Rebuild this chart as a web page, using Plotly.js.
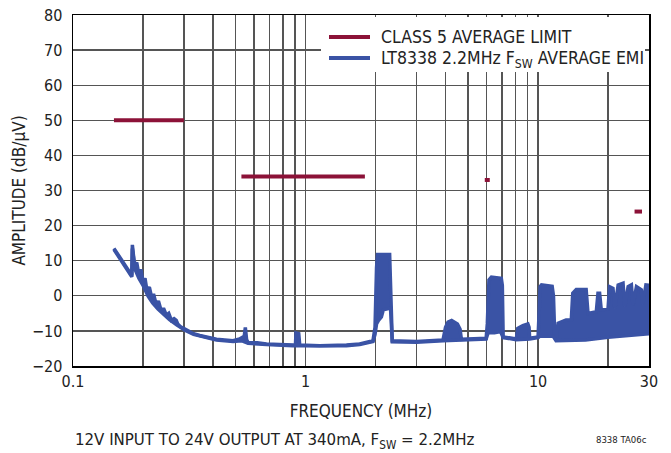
<!DOCTYPE html>
<html>
<head>
<meta charset="utf-8">
<script src="https://cdn.plot.ly/plotly-3.0.1.min.js"></script>
<style>html,body{margin:0;padding:0;background:#fff;}#chart{width:671px;height:453px;}</style>
</head>
<body>
<div id="chart"></div>
<script>
// CISPR 25 Class 5 average limit segments (MHz, dBµV)
const limitFreq = [0.15, 0.3, null, 0.53, 1.8, null, 5.9, 6.2, null, 26, 28];
const limitDb   = [50, 50, null, 34, 34, null, 33, 33, null, 24, 24];

// LT8338 average EMI – upper envelope
const emiHighFreq = [0.150,0.179,0.180,0.184,0.188,0.192,0.196,0.200,0.204,0.208,0.213,0.218,0.222,0.228,0.233,0.240,0.245,0.252,0.258,0.265,0.272,0.278,0.282,0.290,0.303,0.330,0.351,0.414,0.488,0.520,0.545,0.551,0.558,0.566,0.620,0.679,0.884,0.905,0.910,0.935,0.944,1.15,1.50,1.71,1.95,1.99,2.02,2.04,2.30,2.33,2.36,3.0,3.9,4.0,4.1,4.25,4.5,4.62,4.68,5.98,6.05,6.15,6.3,6.95,7.02,7.08,8.06,8.18,8.6,9.04,9.15,9.2,10.0,10.1,10.2,10.35,11.5,11.65,11.8,11.95,12.2,13.2,13.9,14.1,14.6,16.1,16.4,17.8,18.1,18.4,18.7,20.0,20.3,21.0,21.4,22.1,23.2,23.6,24.4,25.2,25.6,26.5,27.8,28.2,29.1,30];
const emiHighDb   = [13.5,5.8,14.5,8.5,9.5,6.0,7.5,4.0,5.0,1.5,2.5,-0.5,0.5,-2.5,-1.5,-4.5,-3.5,-5.5,-5.0,-7.0,-6.5,-7.0,-8.0,-8.8,-9.5,-10.8,-11.3,-12.4,-12.8,-12.3,-11.5,-9.0,-12.5,-13.3,-13.4,-13.7,-14.0,-13.9,-10.6,-10.8,-14.0,-14.2,-14.0,-13.7,-12.8,-9.0,8.0,11.8,11.8,-3.0,-12.8,-13.0,-12.6,-9.0,-7.5,-7.0,-8.0,-9.5,-12.4,-12.1,-8.0,4.5,5.3,5.0,3.0,-11.7,-12.3,-9.3,-8.5,-8.0,-9.0,-12.1,-11.7,-5.0,2.6,3.1,2.7,0.0,-11.7,-12.6,-7.8,-6.9,-6.8,0.7,1.8,1.8,-5.0,-4.5,0.7,0.7,-4.0,-3.6,2.6,2.1,-3.6,3.1,3.6,-3.1,2.6,3.1,-2.6,2.6,1.7,-2.5,3.1,3.0];

// LT8338 average EMI – lower envelope
const emiLowFreq = [0.150,0.179,0.180,0.185,0.192,0.200,0.210,0.220,0.232,0.245,0.260,0.280,0.303,0.330,0.351,0.414,0.488,0.530,0.566,0.679,0.884,0.944,1.15,1.50,1.71,1.95,1.99,2.02,2.06,2.12,2.16,2.32,2.36,3.0,3.9,4.68,5.98,6.1,6.5,6.9,7.08,8.06,9.2,10.0,10.2,11.6,11.95,16.0,20.0,30];
const emiLowDb   = [13.2,5.4,13.5,7.5,5.0,3.0,0.0,-2.0,-3.8,-5.2,-6.8,-8.3,-9.8,-11.0,-11.5,-12.6,-13.0,-12.8,-13.5,-13.9,-14.2,-14.2,-14.4,-14.2,-13.9,-13.0,-11.0,-8.0,-7.0,-6.0,-4.0,-3.5,-13.1,-13.2,-12.8,-12.6,-12.3,-10.5,-10.5,-10.2,-11.9,-12.5,-12.3,-11.9,-11.5,-11.5,-12.8,-12.6,-11.8,-10.8];

// axis ticks
const xTickVals = [0.1, 1, 10, 30];
const xTickText = ['0.1', '1', '10', '30'];
const xMinorGrid = [0.2,0.3,0.4,0.5,0.6,0.7,0.8,0.9,2,3,4,5,6,7,8,9,20];
const yTickVals = [-20,-10,0,10,20,30,40,50,60,70,80];

// legend labels
const limitName = 'CLASS 5 AVERAGE LIMIT';
const emiName = 'LT8338 2.2MHz F<sub>SW</sub> AVERAGE EMI';

const FONT = '"Liberation Sans Narrow","Arial Narrow","DejaVu Sans Condensed",sans-serif';
const RED = '#8C1238';
const BLUE = '#3A53A5';
const TXT = '#222';
const GRID = '#555';

const traces = [
  {x: limitFreq, y: limitDb, mode: 'lines', name: limitName, showlegend: false,
   line: {color: RED, width: 4}, connectgaps: false, hoverinfo: 'skip'},
  {x: emiHighFreq, y: emiHighDb, mode: 'lines', name: emiName, showlegend: false,
   line: {color: BLUE, width: 3.5}, hoverinfo: 'skip'},
  {x: emiLowFreq, y: emiLowDb, mode: 'lines', name: 'EMI lower', showlegend: false,
   fill: 'tonexty', fillcolor: BLUE, line: {color: BLUE, width: 3.5}, hoverinfo: 'skip'}
];

// pixel helpers for the hand-drawn legend box (paper coordinates)
const px = p => (p - 73) / 576;
const py = p => (366 - p) / 351;

const layout = {
  width: 671, height: 453,
  margin: {l: 73, r: 22, t: 15, b: 87},
  paper_bgcolor: '#fff', plot_bgcolor: '#fff',
  font: {family: FONT, size: 16, color: TXT},
  showlegend: false,
  xaxis: {type: 'log', range: [-1, Math.log10(30)], tickmode: 'array',
          tickvals: xTickVals, ticktext: xTickText, ticks: '',
          showgrid: true, gridcolor: GRID, gridwidth: 1.3,
          minor: {tickmode: 'array', tickvals: xMinorGrid, showgrid: true, gridcolor: GRID, gridwidth: 1.3, ticks: ''},
          showline: true, linecolor: '#000', linewidth: 1.5, mirror: true,
          zeroline: false, tickfont: {family: FONT, size: 16, color: TXT},
          title: {text: 'FREQUENCY (MHz)', font: {family: FONT, size: 17, color: TXT}, standoff: 15}},
  yaxis: {range: [-20, 80], tickmode: 'array', tickvals: yTickVals, ticks: '',
          showgrid: true, gridcolor: GRID, gridwidth: 1.3,
          showline: true, linecolor: '#000', linewidth: 1.5, mirror: true,
          zeroline: false, ticklabelstandoff: 6,
          tickfont: {family: FONT, size: 16, color: TXT},
          title: {text: 'AMPLITUDE (dB/µV)', font: {family: FONT, size: 17, color: TXT}, standoff: 2}},
  shapes: [
    {type: 'rect', xref: 'paper', yref: 'paper', x0: px(321), x1: px(645), y0: py(72), y1: py(17),
     fillcolor: '#fff', line: {width: 0}, layer: 'above'},
    {type: 'line', xref: 'paper', yref: 'paper', x0: px(329), x1: px(370), y0: py(37), y1: py(37),
     line: {color: RED, width: 4}, layer: 'above'},
    {type: 'line', xref: 'paper', yref: 'paper', x0: px(329), x1: px(370), y0: py(58), y1: py(58),
     line: {color: BLUE, width: 4}, layer: 'above'}
  ],
  annotations: [
    {xref: 'paper', yref: 'paper', x: px(379), y: py(37), xanchor: 'left', yanchor: 'middle',
     text: limitName, showarrow: false, font: {family: FONT, size: 17.5, color: TXT}},
    {xref: 'paper', yref: 'paper', x: px(379), y: py(59), xanchor: 'left', yanchor: 'middle',
     text: emiName, showarrow: false, font: {family: FONT, size: 17.5, color: TXT}},
    {xref: 'paper', yref: 'paper', x: 0, y: py(440), xanchor: 'left', yanchor: 'middle',
     text: '12V INPUT TO 24V OUTPUT AT 340mA, F<sub>SW</sub> = 2.2MHz', showarrow: false,
     font: {family: FONT, size: 16.7, color: TXT}},
    {xref: 'paper', yref: 'paper', x: 1, y: py(439), xanchor: 'right', yanchor: 'middle',
     text: '8338 TA06c', showarrow: false, font: {family: FONT, size: 9.5, color: TXT}}
  ]
};

Plotly.newPlot('chart', traces, layout, {staticPlot: true, displayModeBar: false});
</script>
</body>
</html>
